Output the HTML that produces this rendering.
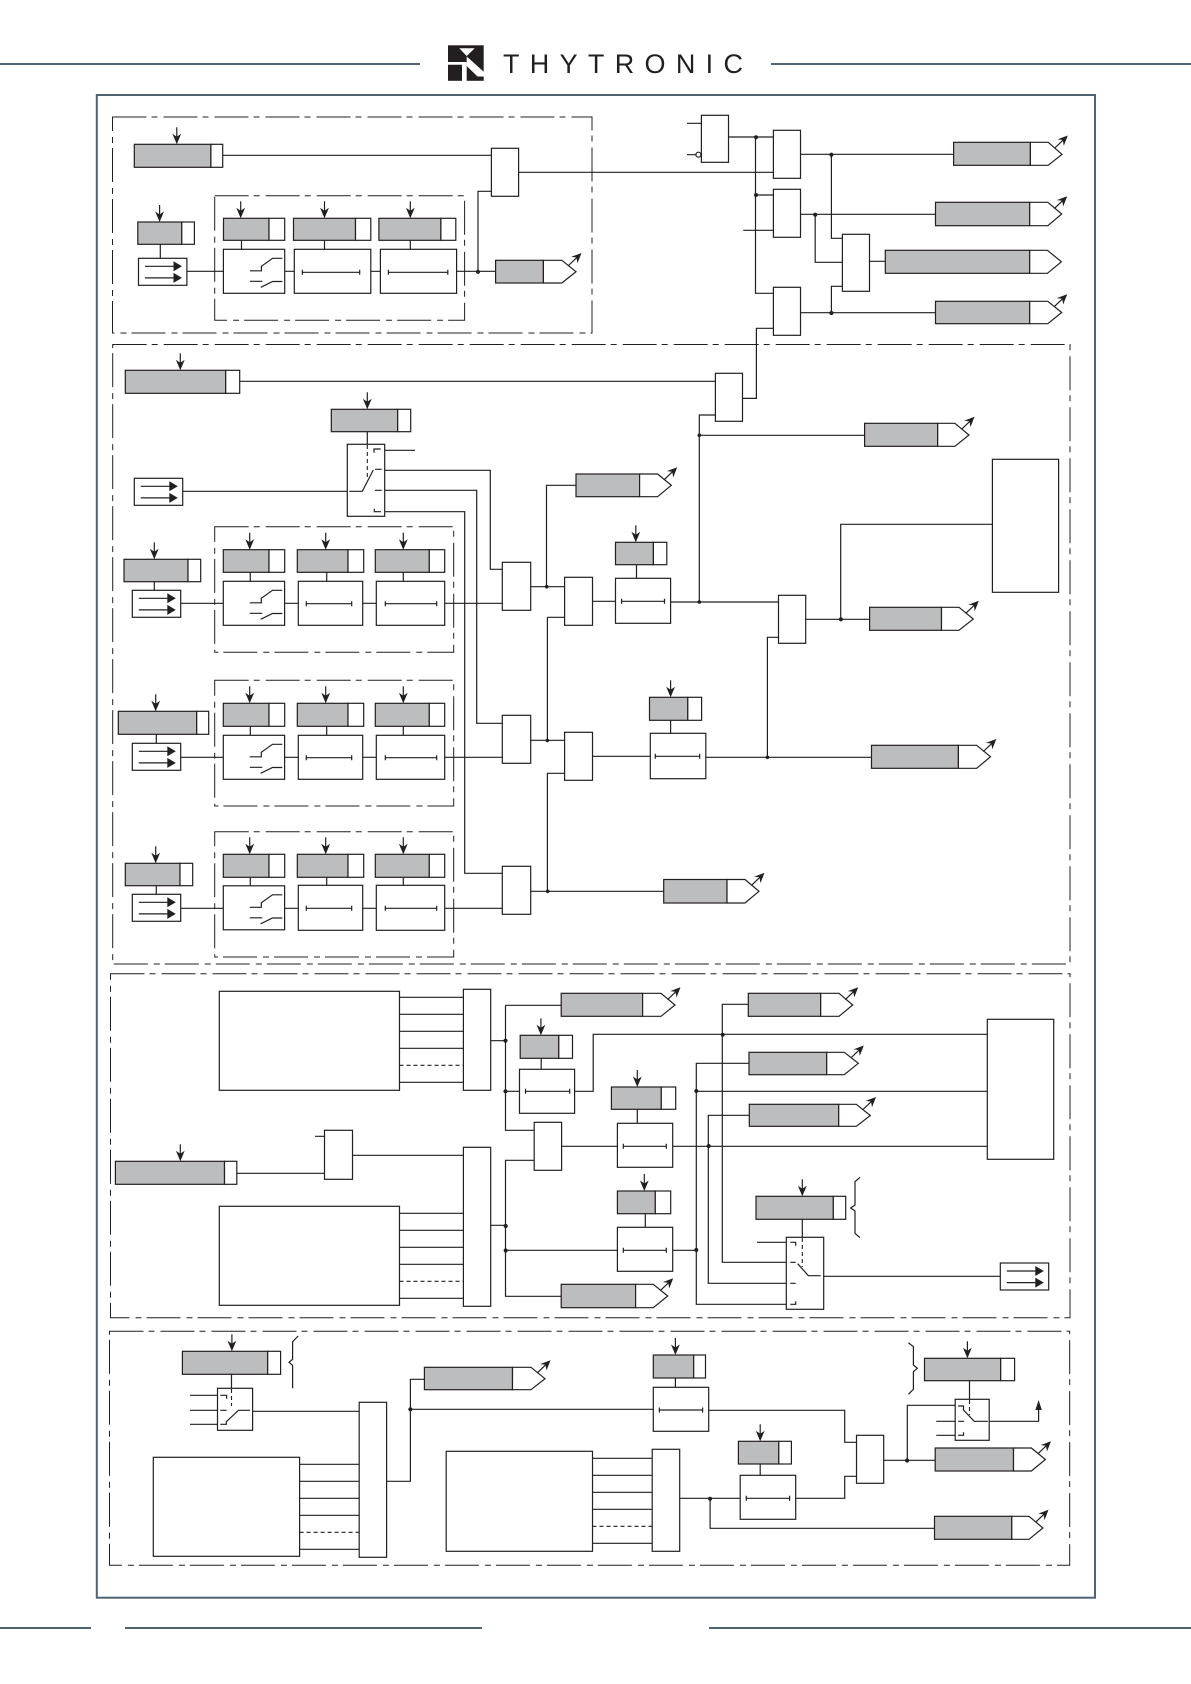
<!DOCTYPE html>
<html>
<head>
<meta charset="utf-8">
<title>THYTRONIC logic diagram</title>
<style>
html,body{margin:0;padding:0;background:#fff;}
svg{display:block;}
.l{fill:none;stroke:#231f20;stroke-width:1.2;}
.w{fill:#fff;stroke:#231f20;stroke-width:1.2;}
.g{fill:#bcbdbe;stroke:#231f20;stroke-width:1.2;}
.f{fill:#231f20;stroke:none;}
.b{fill:none;stroke:#4f6472;stroke-width:2;}
.dd{fill:none;stroke:#231f20;stroke-width:1;stroke-dasharray:34 5 6 6;}
.ds{fill:none;stroke:#231f20;stroke-width:1.1;stroke-dasharray:4 3;}
</style>
</head>
<body>
<svg width="1191" height="1684" viewBox="0 0 1191 1684" xmlns="http://www.w3.org/2000/svg">
<defs>
<g id="d"><path class="l" d="M0 -17V-3"/><polygon class="f" points="0,0 -4.4,-10.5 0,-7.5 4.4,-10.5"/></g>
<g id="o"><path class="l" d="M0 0L9 -8.6"/><polygon class="f" points="13,-12.5 9,-2.2 8,-8 2.6,-8.6"/></g>
<g id="i"><rect class="w" x="0" y="0" width="48.4" height="27"/><path class="l" d="M6.5 8H38M6.5 19.6H38"/><polygon class="f" points="35,3 43.5,8 35,13"/><polygon class="f" points="35,14.6 43.5,19.6 35,24.6"/></g>
<g id="s"><rect class="w" x="0" y="0" width="61.3" height="44"/><path class="l" d="M26.5 21.5H38V17L49.2 9H59M26.5 32H39M37.4 38L49.2 32.2H59"/></g>
</defs>

<!-- header -->
<path class="b" d="M0 64H420M771 64H1191"/>
<rect class="f" x="448" y="45.3" width="35.7" height="35.5"/>
<polygon points="459.3,48.3 474.7,48.3 466.7,56" fill="#fff"/>
<polygon points="448,62 466.7,62 466.7,81 462,81 462,64.7 448,64.7" fill="#fff"/>
<polygon points="466.7,56.5 484,72 484,76.5 477.5,76.5 466.7,66" fill="#fff"/>
<text x="503" y="73" font-family="'Liberation Sans',sans-serif" font-size="27" fill="#231f20" textLength="240" lengthAdjust="spacing">THYTRONIC</text>

<!-- frame and footer -->
<rect class="b" x="96.8" y="95" width="998.2" height="1502.7"/>
<path class="b" d="M0 1628H91M125 1628H482M709 1628H1191"/>

<!-- dashed groups -->
<rect class="dd" x="112.5" y="117" width="479.5" height="216"/>
<rect class="dd" x="214.7" y="195.7" width="249.9" height="124.6"/>
<rect class="dd" x="112.7" y="344.5" width="957.3" height="619.5"/>
<rect class="dd" x="214.7" y="526.7" width="239" height="125.6"/>
<rect class="dd" x="214.7" y="680.3" width="239" height="125.7"/>
<rect class="dd" x="214.7" y="831.7" width="239" height="125.3"/>
<rect class="dd" x="110.5" y="973.7" width="959.5" height="344"/>
<rect class="dd" x="109.5" y="1331.3" width="960.2" height="234"/>

<!-- wires -->
<path class="l" d="M222.7 155.3H491.4M518.6 172.3H773.4M160.3 244.3V258.3M186.8 271.3H223.5M241.5 240.3V249.3M324.5 240.3V249.3M410.3 240.3V249.3M284.7 271.3H294.3M370.8 271.3H380.4M456.6 271.3H495.6M478 271.3V191.3H491.4"/>
<path class="l" d="M687 123.3H701.4M687 154.7H696M728.5 137H773.4M755.5 137V293.3H773.4M755.5 195H773.4M743.2 230.3H773.4M800.5 154.3H953.6M831.4 154.3V238.3H842.4M800.5 214.3H935.5M815.2 214.3V262.3H842.4M800.5 312.7H935.5M831.4 312.7V286.3H842.4M869.5 261.3H885.3"/>
<path class="l" d="M239.7 381.3H715.4M742.5 398.4H756.4V328.3H773.4M715.4 415H699.3V602M699.3 435.3H864.6"/>
<path class="l" d="M367.3 431.7V444.3M181.7 491.3H347.3M384.7 450.3H415M384.7 470.3H490.3V569.3H502.3M384.7 490.3H476.7V723.3H502.3M384.7 511.7H464.7V873.3H502.3"/>
<path class="l" d="M154.3 581.7V590.3M180.7 603.3H223.3M250.3 572.3V581.3M326.7 572.3V581.3M403.3 572.3V581.3M284.7 603.3H298.3M362.7 603.3H376.3M444.7 603.3H502.3M530.7 586.7H564.6M546.5 586.7V485.3H576M592.5 601.3H615.5M636.5 564.7V578.3M670.6 602H778.5M805.7 619.3H869.6M840.7 619.3V524.3H992.4M778.5 637.3H767.4V757.3"/>
<path class="l" d="M156.3 734.3V743.3M180.7 757.3H223.3M250.3 726.3V735.3M326.7 726.3V735.3M403.3 726.3V735.3M284.7 757.3H298.3M362.7 757.3H376.3M444.7 757.3H502.3M530.7 740.3H564.6M547.4 617.3V740.3M547.4 617.3H564.6M564.6 773.3H547.4V891.3M592.5 756.3H650.3M670.6 720.3V733.3M705.8 757.3H871.5"/>
<path class="l" d="M156.3 885.7V894.3M180.7 908.3H223.3M250.3 877.3V885.3M326.7 877.3V885.3M403.3 877.3V885.3M284.7 908.3H298.3M362.7 908.3H376.3M444.7 908.3H502.3M530.7 891.3H663.7"/>

<!-- section 3 wires -->
<path class="l" d="M399.5 997.3H463.4M399.5 1014.3H463.4M399.5 1031.3H463.4M399.5 1048.3H463.4M399.5 1082.3H463.4M490.7 1040.7H505.5M505.5 1005.3V1130.3H534.2M505.5 1005.3H561.2M505.5 1091.3H519.5M541.2 1058.3V1069.3M574.6 1091.3H593.2V1034.3H987.3M561.6 1146.3H617.4M637.3 1109.3V1123.3M672.7 1146.3H987.3M645.3 1213.7V1227.3M505.5 1250.3H617.4M672.7 1250.3H696.3"/>
<path class="ds" d="M399.5 1065.3H463.4M399.5 1281.3H463.4"/>
<path class="l" d="M399.5 1213.3H463.4M399.5 1230.3H463.4M399.5 1247.3H463.4M399.5 1264.3H463.4M399.5 1298.3H463.4M315 1136.3H324.5M236.8 1173.3H324.5M352.5 1155.3H463.4M490.7 1225.3H505.5M534.2 1160.3H505.5V1296.3H561.2"/>
<path class="l" d="M748.3 1004.3H722.3V1262.3H786.3M749 1063.3H696.3V1304.3H786.3M749.3 1115.3H708.3V1283.3H786.3M696.3 1091.3H987.3M802.3 1219.3V1237.3M757 1242.3H786.3M823.7 1276.3H1000.3"/>
<path class="l" d="M860 1177.3L855 1181.7V1205L850.7 1208L855 1211V1233.3L860 1237.7"/>

<!-- section 4 wires -->
<path class="l" d="M231.5 1374.3V1388.3M190 1395.3H217.5M190 1410.3H217.5M190 1424.3H217.5M252.6 1411.3H359.2M299.6 1464.3H359.2M299.6 1481.3H359.2M299.6 1498.3H359.2M299.6 1515.3H359.2M299.6 1549.3H359.2M386.6 1481.3H410.4V1379.3H424.4M410.4 1409.3H653.3"/>
<path class="ds" d="M299.6 1532.3H359.2M592.5 1526.3H652.2"/>
<path class="l" d="M592.5 1458.3H652.2M592.5 1475.3H652.2M592.5 1492.3H652.2M592.5 1509.3H652.2M592.5 1543.3H652.2M679.7 1498.3H740.2M710.1 1498.3V1528.3H934.5M675.4 1378V1387.3M708.7 1410.3H844.7V1442.3H856.5M760.2 1464V1475.3M795.7 1498.3H844.7V1476.3H856.5M883.7 1460.3H935.2M907.3 1460.3V1405.3H955.2M969.5 1380.7V1399.3M936.3 1421.3H955.2M936.3 1435.3H955.2M989.2 1421.3H1038.6V1409"/>
<path class="l" d="M298.2 1336L292.6 1341.7V1359.3L289 1362.3L292.6 1365.3V1388.3M908.4 1342.7L913.4 1346.7V1365L917.3 1368.3L913.4 1371.7V1389.3L908.4 1394.3"/>
<polygon class="f" points="1038.6,1400 1035.4,1410 1041.8,1410"/>

<!-- section 1 -->
<rect class="g" x="134.3" y="144.3" width="76.6" height="23"/><rect class="w" x="210.9" y="144.3" width="11.8" height="23"/><use href="#d" x="176.8" y="144.3"/>
<rect class="g" x="137.8" y="222" width="44" height="22.3"/><rect class="w" x="181.8" y="222" width="12.6" height="22.3"/><use href="#d" x="159.6" y="222"/>
<use href="#i" x="138.5" y="258.3"/>
<rect class="g" x="223.5" y="218.3" width="45.5" height="22"/><rect class="w" x="269" y="218.3" width="15.7" height="22"/><use href="#d" x="240.7" y="218.3"/>
<rect class="g" x="293.5" y="218.3" width="62" height="22"/><rect class="w" x="355.5" y="218.3" width="15.3" height="22"/><use href="#d" x="324.5" y="218.3"/>
<rect class="g" x="378.9" y="218.3" width="62" height="22"/><rect class="w" x="440.9" y="218.3" width="14.9" height="22"/><use href="#d" x="410.3" y="218.3"/>
<use href="#s" x="223.4" y="249.3"/>
<rect class="w" x="294.3" y="249.3" width="76.5" height="44"/><path class="l" d="M302.3 272.3H359.7M302.3 269.8V274.8M359.7 269.8V274.8"/>
<rect class="w" x="380.4" y="249.3" width="76.2" height="44"/><path class="l" d="M388.4 272.3H447.8M388.4 269.8V274.8M447.8 269.8V274.8"/>
<rect class="w" x="491.4" y="148.3" width="27.2" height="48"/>
<circle class="f" cx="478" cy="271.8" r="2.1"/>
<rect class="g" x="495.6" y="260.3" width="47.8" height="22.7"/><polygon class="w" points="543.4,260.3 561.8,260.3 576,271.7 561.8,283 543.4,283"/><use href="#o" x="568.5" y="265.5"/>

<!-- top right -->
<rect class="w" x="701.4" y="115.3" width="27.1" height="47"/><circle class="w" cx="698.4" cy="154.7" r="2.5"/>
<rect class="w" x="773.4" y="130.3" width="27.1" height="48"/>
<rect class="w" x="773.4" y="189.3" width="27.1" height="48"/>
<rect class="w" x="773.4" y="287.3" width="27.1" height="48"/>
<rect class="w" x="842.4" y="234.3" width="27.1" height="57"/>
<circle class="f" cx="756" cy="137.3" r="2"/><circle class="f" cx="756" cy="195" r="2"/><circle class="f" cx="831.4" cy="154.7" r="2.1"/><circle class="f" cx="815.2" cy="214.7" r="2.1"/><circle class="f" cx="831.4" cy="313" r="2.1"/>
<rect class="g" x="953.6" y="142.3" width="76.8" height="23"/><polygon class="w" points="1030.4,142.3 1048.2,142.3 1062,154.3 1048.2,165.3 1030.4,165.3"/><use href="#o" x="1054.8" y="148"/>
<rect class="g" x="935.5" y="202.3" width="94.2" height="23.4"/><polygon class="w" points="1029.7,202.3 1047.8,202.3 1061.7,214 1047.8,225.7 1029.7,225.7"/><use href="#o" x="1054.2" y="208.7"/>
<rect class="g" x="885.3" y="250.3" width="144.4" height="23"/><polygon class="w" points="1029.7,250.3 1047.4,250.3 1061.4,261.8 1047.4,273.3 1029.7,273.3"/>
<rect class="g" x="935.5" y="301.3" width="94.2" height="22.4"/><polygon class="w" points="1029.7,301.3 1047.8,301.3 1061.7,312.5 1047.8,323.7 1029.7,323.7"/><use href="#o" x="1054.2" y="306.7"/>

<!-- section 2 -->
<rect class="g" x="125.3" y="370.3" width="100.4" height="23"/><rect class="w" x="225.7" y="370.3" width="14" height="23"/><use href="#d" x="180.3" y="370.3"/>
<rect class="w" x="715.4" y="373.3" width="27.1" height="48"/>
<circle class="f" cx="699.3" cy="435.3" r="1.8"/><circle class="f" cx="699.3" cy="602" r="1.8"/>
<rect class="g" x="864.6" y="423.3" width="73.1" height="23"/><polygon class="w" points="937.7,423.3 954.9,423.3 969,435 954.9,446.3 937.7,446.3"/><use href="#o" x="961.5" y="429.3"/>
<rect class="g" x="331.3" y="409.3" width="66.4" height="22.4"/><rect class="w" x="397.7" y="409.3" width="13" height="22.4"/><use href="#d" x="367.3" y="409.3"/>
<rect class="w" x="347.3" y="444.3" width="37.4" height="72"/>
<path class="ds" d="M367.3 445V480"/>
<path class="l" d="M374 452.7V449H380.7M374.3 508.7V511.7H381M375 469.3H381.7M375 490.3H381.7M349.3 491.3H362.3L373.3 470"/>
<use href="#i" x="134.3" y="478.3"/>

<!-- row 1 -->
<rect class="g" x="124" y="559.3" width="64" height="22.4"/><rect class="w" x="188" y="559.3" width="12.7" height="22.4"/><use href="#d" x="154.3" y="559.3"/>
<use href="#i" x="132.3" y="590.3"/>
<rect class="g" x="223.3" y="549.7" width="45.7" height="22.6"/><rect class="w" x="269" y="549.7" width="15.7" height="22.6"/><use href="#d" x="249.7" y="549.7"/>
<rect class="g" x="297.3" y="549.7" width="50.7" height="22.6"/><rect class="w" x="348" y="549.7" width="15.7" height="22.6"/><use href="#d" x="325.7" y="549.7"/>
<rect class="g" x="375.3" y="549.7" width="54" height="22.6"/><rect class="w" x="429.3" y="549.7" width="15.4" height="22.6"/><use href="#d" x="403.3" y="549.7"/>
<use href="#s" x="223.3" y="581.3"/>
<rect class="w" x="298.3" y="581.3" width="64.4" height="44"/><path class="l" d="M306.3 603.7H351.7M306.3 601.2V606.2M351.7 601.2V606.2"/>
<rect class="w" x="376.3" y="581.3" width="68.4" height="44"/><path class="l" d="M385.3 603.7H436.7M385.3 601.2V606.2M436.7 601.2V606.2"/>
<rect class="w" x="502.3" y="562.3" width="28.4" height="48"/>
<circle class="f" cx="546.7" cy="586.7" r="1.8"/>
<rect class="g" x="576" y="474" width="63.6" height="22.7"/><polygon class="w" points="639.6,474 657.6,474 671.3,485.3 657.6,496.7 639.6,496.7"/><use href="#o" x="664.2" y="479.7"/>
<rect class="w" x="564.6" y="577.3" width="27.9" height="48"/>
<rect class="w" x="615.5" y="578.3" width="55.1" height="45"/><path class="l" d="M621.6 601.3H664.5M621.6 598.8V603.8M664.5 598.8V603.8"/>
<rect class="g" x="615.5" y="542.3" width="37.9" height="22.4"/><rect class="w" x="653.4" y="542.3" width="13.4" height="22.4"/><use href="#d" x="635.8" y="542.3"/>
<rect class="w" x="778.5" y="595.3" width="27.2" height="48"/>
<circle class="f" cx="840.9" cy="619.3" r="2.1"/>
<rect class="w" x="992.4" y="459.3" width="66.2" height="133"/>
<rect class="g" x="869.6" y="607.3" width="71.9" height="23"/><polygon class="w" points="941.5,607.3 959,607.3 973.3,619 959,630.3 941.5,630.3"/><use href="#o" x="965.8" y="613.3"/>

<!-- row 2 -->
<rect class="g" x="118.3" y="711.3" width="78.4" height="23"/><rect class="w" x="196.7" y="711.3" width="12" height="23"/><use href="#d" x="155.7" y="711.3"/>
<use href="#i" x="132.3" y="743.3"/>
<rect class="g" x="223.3" y="703.3" width="45.7" height="23"/><rect class="w" x="269" y="703.3" width="15.7" height="23"/><use href="#d" x="249.7" y="703.3"/>
<rect class="g" x="297.3" y="703.3" width="50.7" height="23"/><rect class="w" x="348" y="703.3" width="15.7" height="23"/><use href="#d" x="325.7" y="703.3"/>
<rect class="g" x="375.3" y="703.3" width="54" height="23"/><rect class="w" x="429.3" y="703.3" width="15.4" height="23"/><use href="#d" x="403.3" y="703.3"/>
<use href="#s" x="223.3" y="735.3"/>
<rect class="w" x="298.3" y="735.3" width="64.4" height="44"/><path class="l" d="M306.3 757.7H351.7M306.3 755.2V760.2M351.7 755.2V760.2"/>
<rect class="w" x="376.3" y="735.3" width="68.4" height="44"/><path class="l" d="M385.3 757.7H436.7M385.3 755.2V760.2M436.7 755.2V760.2"/>
<rect class="w" x="502.3" y="715.3" width="28.4" height="48"/>
<circle class="f" cx="547.4" cy="740.5" r="1.8"/>
<rect class="w" x="564.6" y="732.3" width="27.9" height="48"/>
<rect class="w" x="650.3" y="733.3" width="55.5" height="45.4"/><path class="l" d="M655.3 756.3H699.7M655.3 753.8V758.8M699.7 753.8V758.8"/>
<rect class="g" x="649.5" y="697.3" width="38.3" height="23"/><rect class="w" x="687.8" y="697.3" width="13.8" height="23"/><use href="#d" x="670.6" y="697.3"/>
<circle class="f" cx="767.4" cy="757.3" r="1.8"/>
<rect class="g" x="871.5" y="745.3" width="86.9" height="23"/><polygon class="w" points="958.4,745.3 976.7,745.3 990.5,756.7 976.7,768.3 958.4,768.3"/><use href="#o" x="983.3" y="751.5"/>

<!-- row 3 -->
<rect class="g" x="125.3" y="863.3" width="54.7" height="22.4"/><rect class="w" x="180" y="863.3" width="12.7" height="22.4"/><use href="#d" x="155.7" y="863.3"/>
<use href="#i" x="132.3" y="894.3"/>
<rect class="g" x="223.3" y="854.3" width="45.7" height="23"/><rect class="w" x="269" y="854.3" width="15.7" height="23"/><use href="#d" x="249.7" y="854.3"/>
<rect class="g" x="297.3" y="854.3" width="50.7" height="23"/><rect class="w" x="348" y="854.3" width="15.7" height="23"/><use href="#d" x="325.7" y="854.3"/>
<rect class="g" x="375.3" y="854.3" width="54" height="23"/><rect class="w" x="429.3" y="854.3" width="15.4" height="23"/><use href="#d" x="403.3" y="854.3"/>
<use href="#s" x="223.3" y="885.8"/>
<rect class="w" x="298.3" y="885.3" width="64.4" height="45"/><path class="l" d="M306.3 908.3H351.7M306.3 905.8V910.8M351.7 905.8V910.8"/>
<rect class="w" x="376.3" y="885.3" width="68.4" height="45"/><path class="l" d="M385.3 908.3H436.7M385.3 905.8V910.8M436.7 905.8V910.8"/>
<rect class="w" x="502.3" y="866.3" width="28.4" height="48"/>
<circle class="f" cx="547.7" cy="891.3" r="1.8"/>
<rect class="g" x="663.7" y="879.5" width="63.3" height="23.5"/><polygon class="w" points="727,879.5 745,879.5 759,891.3 745,903 727,903"/><use href="#o" x="751.5" y="885.3"/>

<!-- section 3 boxes -->
<rect class="w" x="219.3" y="991.3" width="180.2" height="99"/>
<rect class="w" x="463.4" y="989.3" width="27.3" height="101"/>
<rect class="w" x="219.3" y="1206.3" width="180.2" height="99"/>
<rect class="w" x="463.4" y="1147.3" width="27.3" height="159"/>
<rect class="g" x="115.4" y="1161.3" width="109.1" height="23"/><rect class="w" x="224.5" y="1161.3" width="12.3" height="23"/><use href="#d" x="180.3" y="1161.3"/>
<rect class="w" x="324.5" y="1130.3" width="28" height="49"/>
<circle class="f" cx="505.5" cy="1040.7" r="2.1"/><circle class="f" cx="505.5" cy="1091.3" r="2.1"/><circle class="f" cx="505.7" cy="1226" r="2.1"/><circle class="f" cx="505.7" cy="1250.5" r="2.1"/>
<rect class="g" x="561.2" y="993.3" width="81.4" height="23"/><polygon class="w" points="642.6,993.3 661,993.3 675,1005 661,1016.3 642.6,1016.3"/><use href="#o" x="667.5" y="999.7"/>
<rect class="g" x="520.2" y="1035.3" width="38.6" height="23"/><rect class="w" x="558.8" y="1035.3" width="13.7" height="23"/><use href="#d" x="540.9" y="1035.3"/>
<rect class="w" x="519.5" y="1069.3" width="55.1" height="44"/><path class="l" d="M525.5 1091.3H569.7M525.5 1088.8V1093.8M569.7 1088.8V1093.8"/>
<rect class="w" x="534.2" y="1122.3" width="27.4" height="48"/>
<rect class="g" x="611.4" y="1087" width="49.9" height="22.3"/><rect class="w" x="661.3" y="1087" width="14.4" height="22.3"/><use href="#d" x="637.3" y="1087"/>
<rect class="w" x="617.4" y="1123.3" width="55.3" height="44"/><path class="l" d="M623.3 1146.3H666.3M623.3 1143.8V1148.8M666.3 1143.8V1148.8"/>
<rect class="g" x="617.4" y="1191" width="37.9" height="22.7"/><rect class="w" x="655.3" y="1191" width="15.4" height="22.7"/><use href="#d" x="644.3" y="1191"/>
<rect class="w" x="617.4" y="1227.3" width="55.3" height="44"/><path class="l" d="M623.3 1250.3H666.3M623.3 1247.8V1252.8M666.3 1247.8V1252.8"/>
<rect class="g" x="561.2" y="1284.3" width="74.4" height="23.4"/><polygon class="w" points="635.6,1284.3 653.3,1284.3 667.7,1296 653.3,1307.7 635.6,1307.7"/><use href="#o" x="660.2" y="1290.7"/>
<circle class="f" cx="722.7" cy="1034.7" r="2"/><circle class="f" cx="696.3" cy="1091" r="2"/><circle class="f" cx="708.7" cy="1146" r="2"/><circle class="f" cx="696.3" cy="1250" r="2"/>
<rect class="g" x="748.3" y="993.3" width="72.4" height="23"/><polygon class="w" points="820.7,993.3 839,993.3 852.7,1005 839,1016.3 820.7,1016.3"/><use href="#o" x="845.2" y="999.7"/>
<rect class="g" x="749" y="1052.3" width="77.7" height="22.4"/><polygon class="w" points="826.7,1052.3 844.3,1052.3 858.3,1063.3 844.3,1074.7 826.7,1074.7"/><use href="#o" x="850.8" y="1058"/>
<rect class="g" x="749.3" y="1104.3" width="89.4" height="22"/><polygon class="w" points="838.7,1104.3 856.3,1104.3 870.3,1115.5 856.3,1126.3 838.7,1126.3"/><use href="#o" x="863" y="1109.5"/>
<rect class="w" x="987.3" y="1019.3" width="66.4" height="140"/>
<rect class="g" x="756" y="1196.3" width="77.3" height="23"/><rect class="w" x="833.3" y="1196.3" width="12.4" height="23"/><use href="#d" x="802.3" y="1196.3"/>
<rect class="w" x="786.3" y="1237.3" width="37.4" height="72"/>
<path class="ds" d="M802.3 1238V1267"/>
<path class="l" d="M790.3 1242.3H795.7V1245.7M790.3 1262.3H795.7M790.3 1283.3H795.7M795.7 1301.3V1304.3H790.3M797.7 1263.7L808.3 1275.7H820.7"/>
<use href="#i" x="1000.3" y="1263"/>

<!-- section 4 boxes -->
<rect class="g" x="182.4" y="1351.3" width="85.3" height="23"/><rect class="w" x="267.7" y="1351.3" width="12.9" height="23"/><use href="#d" x="231.9" y="1351.3"/>
<rect class="w" x="217.5" y="1388.3" width="35.1" height="42"/>
<path class="ds" d="M231.5 1389V1406"/>
<path class="l" d="M220.3 1395.3H226.6V1398.7M220.3 1410.3H226.6M220.3 1424.3H226.3V1421.7L238.5 1410.3H250"/>
<rect class="w" x="153.3" y="1457.3" width="146.3" height="99"/>
<rect class="w" x="359.2" y="1402.3" width="27.4" height="155"/>
<circle class="f" cx="410.4" cy="1409.3" r="2.1"/>
<rect class="g" x="424.4" y="1367.3" width="88.1" height="22.4"/><polygon class="w" points="512.5,1367.3 531,1367.3 545,1378.7 531,1389.7 512.5,1389.7"/><use href="#o" x="537.5" y="1372.7"/>
<rect class="w" x="446.2" y="1451.3" width="146.3" height="100"/>
<rect class="w" x="652.2" y="1449.3" width="27.5" height="102"/>
<circle class="f" cx="710.1" cy="1498.7" r="2"/>
<rect class="g" x="653.3" y="1355" width="40.4" height="23"/><rect class="w" x="693.7" y="1355" width="11.8" height="23"/><use href="#d" x="675.4" y="1355"/>
<rect class="w" x="653.3" y="1387.3" width="55.4" height="44"/><path class="l" d="M659.3 1410H702.6M659.3 1407.5V1412.5M702.6 1407.5V1412.5"/>
<rect class="g" x="738.4" y="1441.3" width="40.4" height="22.7"/><rect class="w" x="778.8" y="1441.3" width="12.6" height="22.7"/><use href="#d" x="760.2" y="1441.3"/>
<rect class="w" x="740.2" y="1475.3" width="55.5" height="44"/><path class="l" d="M746.3 1498.3H789.6M746.3 1495.8V1500.8M789.6 1495.8V1500.8"/>
<rect class="w" x="856.5" y="1435.3" width="27.2" height="48"/>
<circle class="f" cx="907.1" cy="1460.5" r="2.1"/>
<rect class="g" x="935.2" y="1448" width="78.3" height="23"/><polygon class="w" points="1013.5,1448 1031.4,1448 1045.4,1459.5 1031.4,1471 1013.5,1471"/><use href="#o" x="1038" y="1453.7"/>
<rect class="g" x="934.5" y="1516.3" width="77.3" height="23"/><polygon class="w" points="1011.8,1516.3 1029,1516.3 1042.9,1528 1029,1539.3 1011.8,1539.3"/><use href="#o" x="1035.5" y="1522.3"/>
<rect class="g" x="924.5" y="1358.3" width="76.2" height="22.4"/><rect class="w" x="1000.7" y="1358.3" width="13.9" height="22.4"/><use href="#d" x="967.4" y="1358.3"/>
<rect class="w" x="955.2" y="1399.3" width="34" height="41"/>
<path class="ds" d="M969.5 1400V1415"/>
<path class="l" d="M958.1 1406H963.5V1410L974.2 1421.3H987.8M958.1 1421.3H964.2M958.1 1435.3H963.5V1432.3"/>
</svg>
</body>
</html>
